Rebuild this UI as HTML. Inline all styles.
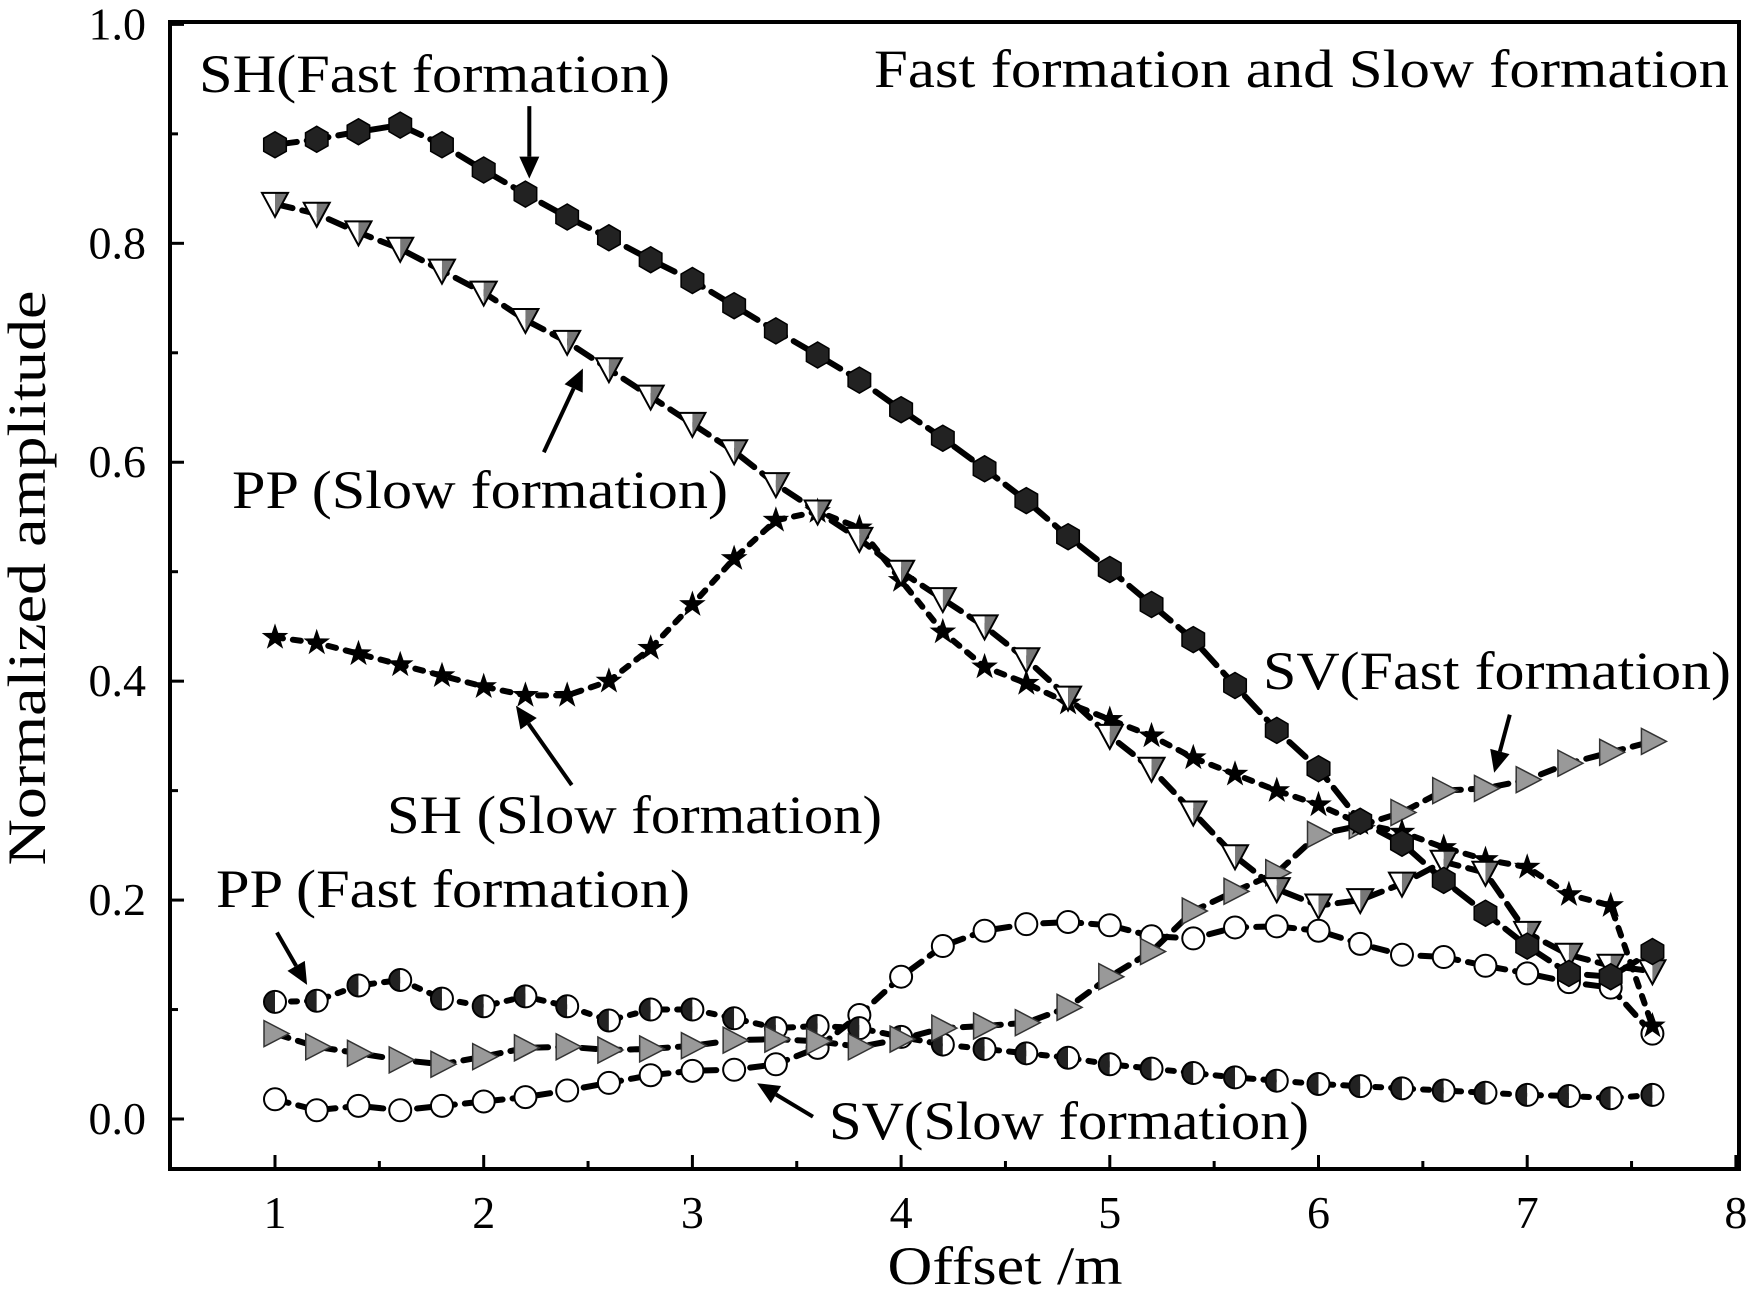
<!DOCTYPE html>
<html><head><meta charset="utf-8"><style>
html,body{margin:0;padding:0;background:#fff;}
svg{display:block;font-family:"Liberation Serif",serif;}
</style></head><body>
<svg id="chart" width="1751" height="1290" viewBox="0 0 1751 1290" xmlns="http://www.w3.org/2000/svg">
<defs>
<clipPath id="clipL"><rect x="-20" y="-20" width="20" height="40"/></clipPath>
<clipPath id="clipR"><rect x="0" y="-20" width="20" height="40"/></clipPath>
</defs>
<g id="axes"></g>
<g id="series"></g>
<g id="notes"></g>
</svg>
<script>
const xs = [1,1.2,1.4,1.6,1.8,2,2.2,2.4,2.6,2.8,3,3.2,3.4,3.6,3.8,4,4.2,4.4,4.6,4.8,5,5.2,5.4,5.6,5.8,6,6.2,6.4,6.6,6.8,7,7.2,7.4,7.6];
const shFast = [0.89,0.895,0.902,0.908,0.89,0.867,0.845,0.824,0.805,0.785,0.766,0.743,0.72,0.698,0.675,0.648,0.622,0.594,0.565,0.532,0.502,0.47,0.438,0.396,0.355,0.32,0.272,0.252,0.218,0.188,0.158,0.133,0.13,0.153];
const ppSlow = [0.836,0.827,0.81,0.795,0.775,0.755,0.73,0.71,0.685,0.66,0.635,0.61,0.58,0.555,0.53,0.5,0.475,0.45,0.42,0.385,0.35,0.32,0.28,0.24,0.21,0.195,0.2,0.215,0.235,0.225,0.17,0.15,0.14,0.135];
const shSlow = [0.44,0.435,0.425,0.415,0.405,0.395,0.387,0.387,0.4,0.43,0.47,0.512,0.547,0.555,0.54,0.492,0.445,0.413,0.398,0.38,0.365,0.35,0.33,0.315,0.3,0.287,0.27,0.262,0.248,0.237,0.23,0.205,0.195,0.085];
const ppFast = [0.107,0.108,0.122,0.127,0.11,0.103,0.112,0.103,0.09,0.1,0.1,0.092,0.083,0.085,0.083,0.075,0.068,0.064,0.06,0.056,0.05,0.046,0.042,0.038,0.035,0.032,0.03,0.028,0.026,0.024,0.022,0.021,0.019,0.022];
const svFast = [0.078,0.066,0.06,0.054,0.05,0.057,0.065,0.066,0.063,0.064,0.067,0.072,0.073,0.071,0.066,0.073,0.083,0.085,0.088,0.102,0.13,0.153,0.19,0.208,0.225,0.26,0.268,0.28,0.3,0.302,0.31,0.325,0.335,0.345];
const svSlow = [0.018,0.008,0.012,0.008,0.012,0.016,0.02,0.026,0.033,0.04,0.044,0.045,0.05,0.065,0.095,0.13,0.158,0.172,0.178,0.18,0.177,0.167,0.165,0.175,0.176,0.172,0.16,0.15,0.148,0.14,0.133,0.125,0.12,0.078];
const xTicks = [1,2,3,4,5,6,7,8];
const yTicks = [0.0,0.2,0.4,0.6,0.8,1.0];

const NS='http://www.w3.org/2000/svg';
const X0=170,X1=1739,Y0=22,Y1=1169;
const sx=v=>275+(v-1)*208.7;
const sy=v=>1119-v*1094.6;
function mk(tag,attrs,parent){const e=document.createElementNS(NS,tag);for(const k in attrs)e.setAttribute(k,attrs[k]);parent.appendChild(e);return e;}
const axes=document.getElementById('axes');
const frame=mk('rect',{x:X0,y:Y0,width:X1-X0,height:Y1-Y0,fill:'none',stroke:'#000','stroke-width':4},axes);


for(let v=1;v<=8.001;v+=0.5){
  const t=mk('line',{x1:sx(v),x2:sx(v),y1:Y1,y2:Y1-(Math.abs(v-Math.round(v))<0.01?14:8),stroke:'#000','stroke-width':3},axes);
  
  
}
for(let v=0;v<=1.001;v+=0.1){
  const t=mk('line',{x1:X0,x2:X0+(Math.round(v*10)%2===0?14:8),y1:sy(v),y2:sy(v),stroke:'#000','stroke-width':3},axes);
  
  
}
xTicks.forEach(v=>{const t=mk('text',{x:sx(v),y:1228,'font-size':46,'text-anchor':'middle'},axes);t.textContent=v;
  
  });
yTicks.forEach(v=>{const t=mk('text',{x:146,y:sy(v)+15,'font-size':46,'text-anchor':'end'},axes);t.textContent=v.toFixed(1);
  
  });
const xt=mk('text',{x:1005,y:1284,'font-size':54,'text-anchor':'middle',textLength:235,lengthAdjust:'spacingAndGlyphs'},axes);xt.textContent='Offset /m';


const yt=mk('text',{x:0,y:0,'font-size':54,'text-anchor':'middle',transform:'translate(45,578) rotate(-90)',textLength:575,lengthAdjust:'spacingAndGlyphs'},axes);yt.textContent='Normalized amplitude';



const ser=document.getElementById('series');
function drawMarker(g,type,x,y){
  const r=13;
  if(type==='hex'){const p=[];for(let i=0;i<6;i++){const a=Math.PI/6+i*Math.PI/3;p.push((x+r*Math.cos(a)).toFixed(1)+','+(y+r*Math.sin(a)).toFixed(1));}
    return mk('polygon',{points:p.join(' '),fill:'#222',stroke:'#000','stroke-width':1.5},g);}
  if(type==='tridown'){const gg=mk('g',{},g);
    mk('polygon',{points:`${x-r},${y-r+2} ${x},${y-r+2} ${x},${y+r}`,fill:'#fff'},gg);
    mk('polygon',{points:`${x},${y-r+2} ${x+r},${y-r+2} ${x},${y+r}`,fill:'#777'},gg);
    mk('polygon',{points:`${x-r},${y-r+2} ${x+r},${y-r+2} ${x},${y+r}`,fill:'none',stroke:'#000','stroke-width':2},gg);return gg;}
  if(type==='star'){const p=[];for(let i=0;i<10;i++){const rr=i%2?5.5:14;const a=-Math.PI/2+i*Math.PI/5;p.push((x+rr*Math.cos(a)).toFixed(1)+','+(y+rr*Math.sin(a)).toFixed(1));}
    return mk('polygon',{points:p.join(' '),fill:'#000'},g);}
  if(type==='half'){const gg=mk('g',{},g);
    mk('path',{d:`M${x},${y-11} A11,11 0 0 0 ${x},${y+11} Z`,fill:'#222'},gg);
    mk('path',{d:`M${x},${y-11} A11,11 0 0 1 ${x},${y+11} Z`,fill:'#fff'},gg);
    mk('circle',{cx:x,cy:y,r:11,fill:'none',stroke:'#000','stroke-width':2},gg);return gg;}
  if(type==='triright'){return mk('polygon',{points:`${x-11},${y-13} ${x+14},${y} ${x-11},${y+13}`,fill:'#999',stroke:'#333','stroke-width':1.5},g);}
  if(type==='circle'){return mk('circle',{cx:x,cy:y,r:11,fill:'#fff',stroke:'#000','stroke-width':2},g);}
}
function series(name,vals,type,dash){
  const g=mk('g',{},ser);
  
  
  const pts=xs.map((x,i)=>sx(x).toFixed(1)+','+sy(vals[i]).toFixed(1)).join(' ');
  const l=mk('polyline',{points:pts,fill:'none',stroke:'#000','stroke-width':6,'stroke-dasharray':dash,'stroke-linecap':'round'},g);
  
  
  xs.forEach((x,i)=>{const m=drawMarker(g,type,sx(x),sy(vals[i]));
    
    });
}
series('sv-slow-series',svSlow,'circle','14 10');
series('pp-fast-series',ppFast,'half','6 10');
series('sv-fast-series',svFast,'triright','14 10');
series('sh-slow-series',shSlow,'star','8 10');
series('pp-slow-series',ppSlow,'tridown','18 10');
series('sh-fast-series',shFast,'hex','22 10');

const notes=document.getElementById('notes');
const labels=[
 ['SH(Fast formation)',199,92,471,'label-sh-fast'],
 ['Fast formation and Slow formation',874,87,855,'chart-title'],
 ['PP (Slow formation)',232,508,496,'label-pp-slow'],
 ['SH (Slow formation)',387,833,495,'label-sh-slow'],
 ['SV(Fast formation)',1263,689,468,'label-sv-fast'],
 ['PP (Fast formation)',216,907,474,'label-pp-fast'],
 ['SV(Slow formation)',829,1139,480,'label-sv-slow']];
labels.forEach(([t,x,y,w,n])=>{const e=mk('text',{x:x,y:y,'font-size':54,textLength:w,lengthAdjust:'spacingAndGlyphs'},notes);e.textContent=t;
  
  });
const arrows=[[474,95,474,160,'arrow-sh-fast'],[487,405,522,330,'arrow-pp-slow'],[512,703,462,632,'arrow-sh-slow'],[248,835,275,882,'arrow-pp-fast'],[1352,640,1338,692,'arrow-sv-fast'],[728,1000,678,970,'arrow-sv-slow']];
arrows.forEach(([a,b,c,d,n])=>{const k=1.1167;const x1=a*k,y1=b*k,x2=c*k,y2=d*k;
  const g=mk('g',{},notes);
  
  
  const ang=Math.atan2(y2-y1,x2-x1),L=22,W=10;
  const bx=x2-L*Math.cos(ang),by=y2-L*Math.sin(ang);
  mk('line',{x1:x1,y1:y1,x2:bx,y2:by,stroke:'#000','stroke-width':4},g);
  mk('polygon',{points:`${x2},${y2} ${bx+W*Math.sin(ang)},${by-W*Math.cos(ang)} ${bx-W*Math.sin(ang)},${by+W*Math.cos(ang)}`,fill:'#000'},g);
});
</script>
</body></html>
